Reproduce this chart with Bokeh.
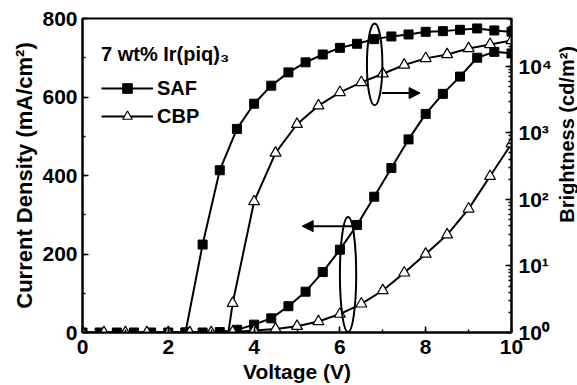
import math
from bokeh.plotting import figure
from bokeh.layouts import row
from bokeh.models import (Range1d, LogScale, LogAxis, SingleIntervalTicker, LogTicker,
                          Legend, LegendItem, Arrow, NormalHead)
from bokeh.core.properties import value
from bokeh.embed import file_html
from bokeh.resources import INLINE

# ---------------- data ----------------
saf_v = [0.0, 0.4, 0.8, 1.2, 1.6, 2.0, 2.4, 2.8, 3.2, 3.6, 4.0, 4.4, 4.8, 5.2, 5.6,
         6.0, 6.4, 6.8, 7.2, 7.6, 8.0, 8.4, 8.8, 9.2, 9.6, 10.0]
saf_j = [0, 0, 0, 0, 0, 0, 0, 0, 1, 7, 20, 36, 67, 104, 154,
         211, 274, 346, 419, 492, 557, 608, 652, 700, 715, 711]

saf_bv = [2.4, 2.8, 3.2, 3.6, 4.0, 4.4, 4.8, 5.2, 5.6, 6.0, 6.4, 6.8, 7.2, 7.6,
          8.0, 8.4, 8.8, 9.2, 9.6, 10.0]
saf_b = [1.0, 21, 275, 1150, 2750, 5130, 8130, 11500, 15100, 19000, 21900, 25700,
         28200, 30200, 33100, 33900, 35500, 37200, 34700, 33100]

cbp_v = [0.0, 0.5, 1.0, 1.5, 2.0, 2.5, 3.0, 3.5, 4.0, 4.5, 5.0, 5.5, 6.0, 6.5, 7.0,
         7.5, 8.0, 8.5, 9.0, 9.5, 10.0]
cbp_j = [0, 0, 0, 0, 0, 0, 0, 1, 5, 9, 16, 28, 47, 73, 107,
         152, 200, 249, 315, 398, 481]

cbp_bv = [3.0, 3.5, 4.0, 4.5, 5.0, 5.5, 6.0, 6.5, 7.0, 7.5, 8.0, 8.5, 9.0, 9.5, 10.0]
cbp_b = [0.017, 2.75, 93, 500, 1350, 2570, 4070, 5750, 7760, 10500, 13200, 15100,
         18600, 21400, 24500]

b_tick_labels = {1: "10\u2070", 10: "10\u00b9", 100: "10\u00b2", 1000: "10\u00b3", 10000: "10\u2074"}
right_title = "Brightness (cd/m\u00b2)"

FONT = "Liberation Sans"

p = figure(width=555, height=385, x_range=Range1d(0, 10), y_range=Range1d(0, 800),
           output_backend="svg", toolbar_location=None,
           min_border_left=82, min_border_right=42, min_border_top=18, min_border_bottom=53)
p.extra_y_ranges = {"b": Range1d(1, 10 ** 4.72)}
p.extra_y_scales = {"b": LogScale()}

p.xgrid.visible = False
p.ygrid.visible = False
p.outline_line_color = "black"
p.outline_line_width = 2
p.background_fill_color = "white"
p.border_fill_color = "white"

def style_axis(ax, tick_size="21px", label_size="22px"):
    ax.axis_line_width = 2
    ax.axis_line_color = "black"
    ax.major_tick_in = 6
    ax.major_tick_out = 0
    ax.minor_tick_in = 3
    ax.minor_tick_out = 0
    ax.major_tick_line_width = 1.5
    ax.minor_tick_line_width = 1.5
    ax.major_label_text_font = FONT
    ax.major_label_text_font_style = "bold"
    ax.major_label_text_font_size = tick_size
    ax.major_label_text_color = "black"
    ax.axis_label_text_font = FONT
    ax.axis_label_text_font_style = "bold"
    ax.axis_label_text_font_size = label_size
    ax.axis_label_text_color = "black"

xa = p.xaxis[0]
xa.ticker = SingleIntervalTicker(interval=2, num_minor_ticks=2)
xa.axis_label = "Voltage (V)"
style_axis(xa, "21px", "21px")
xa.major_label_standoff = 7
xa.axis_label_standoff = 3

ya = p.yaxis[0]
ya.ticker = SingleIntervalTicker(interval=200, num_minor_ticks=2)
ya.axis_label = "Current Density (mA/cm\u00b2)"
style_axis(ya, "21px", "22px")
ya.major_label_standoff = 5
ya.axis_label_standoff = 2

ra = LogAxis(y_range_name="b", ticker=LogTicker(num_minor_ticks=10))
ra.major_label_overrides = b_tick_labels
style_axis(ra, "21px", "21px")
ra.major_label_standoff = 7
p.add_layout(ra, "right")

LW = 2
l_saf_j = p.line(saf_v, saf_j, line_color="black", line_width=LW)
l_cbp_j = p.line(cbp_v, cbp_j, line_color="black", line_width=LW)
p.line(saf_bv, saf_b, line_color="black", line_width=LW, y_range_name="b")
p.line(cbp_bv, cbp_b, line_color="black", line_width=LW, y_range_name="b")

m_saf_j = p.scatter(saf_v, saf_j, marker="square", size=9, fill_color="black", line_color="black")
p.scatter(saf_bv, saf_b, marker="square", size=9, fill_color="black", line_color="black", y_range_name="b")
m_cbp_j = p.scatter(cbp_v, cbp_j, marker="triangle", size=11, fill_color="white", line_color="black", line_width=1.2)
p.scatter(cbp_bv, cbp_b, marker="triangle", size=11, fill_color="white", line_color="black", line_width=1.2, y_range_name="b")

p.ellipse(x=6.81, y=683, width=0.36, height=209, fill_color=None, line_color="black", line_width=2)
p.ellipse(x=6.19, y=148, width=0.38, height=293, fill_color=None, line_color="black", line_width=2)
p.add_layout(Arrow(end=NormalHead(size=11, fill_color="black", line_color="black"),
                   x_start=6.98, y_start=610, x_end=7.87, y_end=610, line_width=2))
p.add_layout(Arrow(end=NormalHead(size=11, fill_color="black", line_color="black"),
                   x_start=6.38, y_start=271, x_end=5.12, y_end=271, line_width=2))

legend = Legend(items=[LegendItem(label="SAF", renderers=[l_saf_j, m_saf_j]),
                       LegendItem(label="CBP", renderers=[l_cbp_j, m_cbp_j])],
                location=(19, 204), title="7 wt% Ir(piq)\u2083")
legend.border_line_color = None
legend.background_fill_alpha = 0
legend.margin = 0
legend.padding = 0
legend.label_standoff = 4
legend.glyph_width = 52
legend.glyph_height = 24
legend.label_height = 24
legend.spacing = 4
legend.label_text_font = FONT
legend.label_text_font_style = "bold"
legend.label_text_font_size = "20px"
legend.label_text_color = "black"
legend.title_text_font = FONT
legend.title_text_font_style = "bold"
legend.title_text_font_size = "20px"
legend.title_text_color = "black"
legend.title_standoff = 10
p.add_layout(legend)

# narrow strip at the right holding the right-axis title, reading bottom-to-top
p2 = figure(width=22, height=385, x_range=Range1d(0, 22), y_range=Range1d(385, 0),
            output_backend="svg", toolbar_location=None, x_axis_type=None, y_axis_type=None,
            min_border_left=0, min_border_right=0, min_border_top=0, min_border_bottom=0)
p2.grid.visible = False
p2.outline_line_color = None
p2.background_fill_color = "white"
p2.border_fill_color = "white"
p2.text(x=[11.5], y=[142], text=[right_title], angle=math.pi / 2,
        text_align="center", text_baseline="middle", text_font=value(FONT),
        text_font_style="bold", text_font_size="20px", text_color="black")

layout = row(p, p2, spacing=0)
open("out.html", "w").write(file_html(layout, INLINE))
